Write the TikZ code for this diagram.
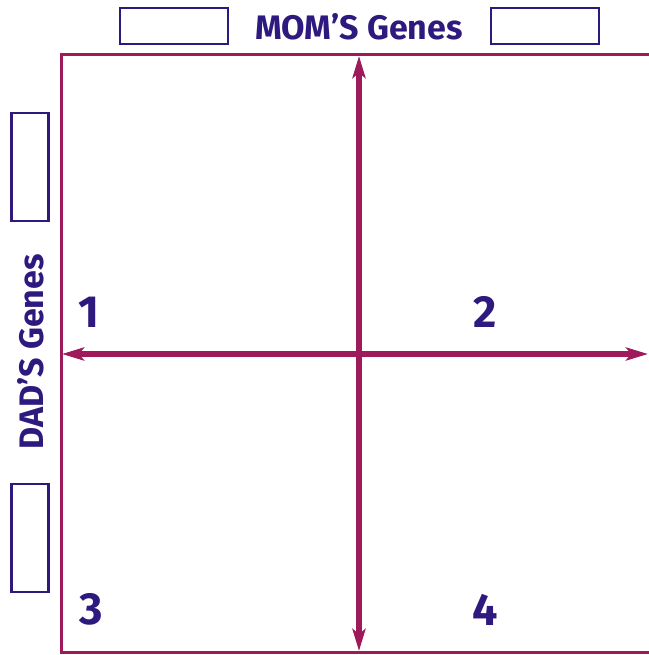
\documentclass[tikz,border=0pt]{standalone}
\usepackage{fontspec}
\setmainfont{Fira Sans}
\usetikzlibrary{arrows.meta}
\definecolor{frame}{HTML}{9E1A5A}
\definecolor{ink}{HTML}{2E1A7E}
\tikzset{
  blank/.style={draw=ink, line width=2.8pt, inner sep=0pt},
  label/.style={text=ink, font=\bfseries\fontsize{34}{34}\selectfont, inner sep=0pt},
  num/.style={text=ink, font=\bfseries\fontsize{45}{45}\selectfont, inner sep=0pt},
  axis/.style={draw=frame, line width=5.5pt, {Stealth[length=22pt,width=13pt,inset=5pt]}-{Stealth[length=22pt,width=13pt,inset=5pt]}}
}
\begin{document}
\begin{tikzpicture}[x=1pt,y=-1pt]
\useasboundingbox (0,0) rectangle (648,655);
% frame
\draw[frame, line width=3pt] (660,55) -- (61,55) -- (61,652) -- (660,652);
% blanks
\node[blank, minimum width=108pt, minimum height=36pt] (bt1) at (174,26) {};
\node[blank, minimum width=108pt, minimum height=36pt] (bt2) at (545,26) {};
\node[blank, minimum width=37pt, minimum height=108pt] (bl1) at (30,167) {};
\node[blank, minimum width=37pt, minimum height=108pt] (bl2) at (30,538) {};
% labels
\node[label] (mom) at (359,27) {MOM’S Genes};
\node[label, rotate=90] (dad) at (31,352) {DAD’S Genes};
% numbers
\node[num] (n1) at (89,312) {1};
\node[num] (n2) at (485,312) {2};
\node[num] (n3) at (91,609) {3};
\node[num] (n4) at (485,610) {4};
% axes
\coordinate (vt) at (359,56);
\coordinate (vb) at (359,651);
\coordinate (hl) at (62,354);
\coordinate (hr) at (648,354);
\draw[axis] (vt) -- (vb);
\draw[axis] (hl) -- (hr);
\end{tikzpicture}
\end{document}
